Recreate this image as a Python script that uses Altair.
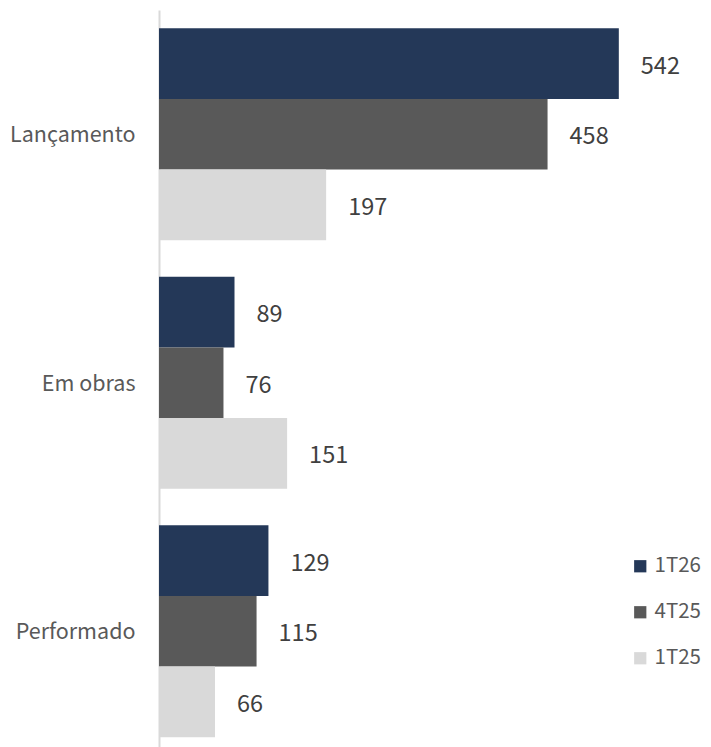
import altair as alt
import pandas as pd

categories = ["Lançamento", "Em obras", "Performado"]
series = ["1T26", "4T25", "1T25"]
values_1T26 = [542, 89, 129]
values_4T25 = [458, 76, 115]
values_1T25 = [197, 151, 66]
colors = ["#243858", "#595959", "#d9d9d9"]

rows = []
for s, vals in zip(series, [values_1T26, values_4T25, values_1T25]):
    for c, v in zip(categories, vals):
        rows.append({"categoria": c, "serie": s, "valor": v})
df = pd.DataFrame(rows)

FONT = "Noto Sans CJK KR"

y_enc = alt.Y("categoria:N", sort=categories, title=None,
              scale=alt.Scale(paddingInner=0.147, paddingOuter=0.0735),
              axis=alt.Axis(ticks=False, domainColor="#d9d9d9", domainWidth=2,
                            labelFontSize=21.5, labelColor="#595959", labelPadding=24,
                            labelFont=FONT, labelOffset=2))
yoff = alt.YOffset("serie:N", sort=series, scale=alt.Scale(paddingInner=0, paddingOuter=0))
x_enc = alt.X("valor:Q", scale=alt.Scale(domain=[0, 554]), axis=None)

bars = alt.Chart(df).mark_bar().encode(
    x=x_enc,
    y=y_enc,
    yOffset=yoff,
    color=alt.Color("serie:N", sort=series,
                    scale=alt.Scale(domain=series, range=colors),
                    legend=alt.Legend(title=None, orient="none", legendX=471, legendY=546,
                                      symbolType="square", symbolSize=150,
                                      symbolStrokeWidth=0, symbolOpacity=1,
                                      labelFontSize=20.5, labelColor="#595959",
                                      labelFont=FONT, rowPadding=25, labelOffset=4)),
)

labels = alt.Chart(df).mark_text(align="left", baseline="middle", dx=22, dy=3,
                                 fontSize=23.5, color="#404040", font=FONT).encode(
    x=x_enc,
    y=alt.Y("categoria:N", sort=categories),
    yOffset=yoff,
    text=alt.Text("valor:Q"),
)

chart = alt.layer(bars, labels).properties(
    width=470, height=745.5,
    background="white",
    autosize=alt.AutoSizeParams(type="none"),
    padding={"left": 151, "top": 2, "right": 74, "bottom": 0},
).configure_view(stroke=None)

chart.save("out.html", embed_options={"renderer": "svg", "actions": False})
